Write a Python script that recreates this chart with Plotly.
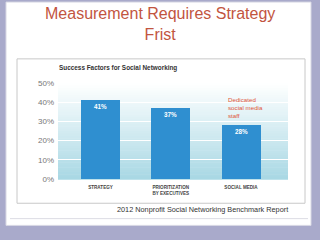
import plotly.graph_objects as go

categories = ["STRATEGY", "PRIORITIZATION<br>BY EXECUTIVES", "SOCIAL MEDIA"]
values = [41, 37, 28]
value_labels = ["<b>41%</b>", "<b>37%</b>", "<b>28%</b>"]
y_ticks = [0, 10, 20, 30, 40, 50]
y_tick_labels = ["0%", "10%", "20%", "30%", "40%", "50%"]

W, H = 320, 240
def px(x): return x / W
def py(y): return 1 - y / H

# plot area in pixels
X0, X1 = 58, 288
Y0, Y1 = 82, 182

fig = go.Figure()
fig.add_trace(go.Bar(
    x=categories, y=values, text=value_labels,
    textposition="inside", insidetextanchor="end",
    textfont=dict(family="Arial", size=6.3, color="white"),
    marker=dict(color="#2f8fd0", line=dict(width=0)),
    width=0.555, cliponaxis=False,
))

shapes = []
shapes.append(dict(type="rect", xref="paper", yref="paper",
                   x0=px(6), x1=px(311), y0=py(230), y1=py(-2),
                   fillcolor="white", line=dict(color="#d8d8e4", width=1), layer="below"))
shapes.append(dict(type="rect", xref="paper", yref="paper",
                   x0=px(17), x1=px(305), y0=py(207), y1=py(57),
                   fillcolor="white", line=dict(color="#c8c8c8", width=1), layer="below"))
shapes.append(dict(type="line", xref="paper", yref="paper",
                   x0=px(10), x1=px(308), y0=py(223), y1=py(223),
                   line=dict(color="#dcdce4", width=1), layer="below"))
N = 40
top = (255, 255, 255)
bot = (168, 216, 228)
for i in range(N):
    t = (i + 0.5) / N
    c = tuple(int(round(top[k] + (bot[k] - top[k]) * t)) for k in range(3))
    ya = Y0 + (Y1 - Y0) * i / N
    yb = Y0 + (Y1 - Y0) * (i + 1) / N + 0.5
    shapes.append(dict(type="rect", xref="paper", yref="paper",
                       x0=px(X0), x1=px(X1), y0=py(yb), y1=py(ya),
                       fillcolor="rgb(%d,%d,%d)" % c, line=dict(width=0), layer="below"))

annotations = [
    dict(text="Measurement Requires Strategy<br>Frist", xref="paper", yref="paper",
         x=px(160), y=py(21), showarrow=False,
         font=dict(family="Arial", size=16, color="#c2553f"), xanchor="center", yanchor="middle"),
    dict(text="<b>Success Factors for Social Networking</b>", xref="paper", yref="paper",
         x=px(57), y=py(67), showarrow=False, xanchor="left", yanchor="middle",
         font=dict(family="Arial", size=6.4, color="#333333")),
    dict(text="Dedicated<br>social media<br>staff", xref="paper", yref="paper",
         x=px(226), y=py(108), showarrow=False, xanchor="left", yanchor="middle", align="left",
         font=dict(family="Arial", size=6.2, color="#e0553a")),
    dict(text="2012 Nonprofit Social Networking Benchmark Report", xref="paper", yref="paper",
         x=px(202), y=py(214), showarrow=False, xanchor="center", yanchor="middle",
         font=dict(family="Arial", size=7.3, color="#333333")),
]

fig.update_layout(
    width=W, height=H, margin=dict(l=0, r=0, t=0, b=0),
    paper_bgcolor="#a9aacb", plot_bgcolor="rgba(0,0,0,0)",
    showlegend=False, shapes=shapes, annotations=annotations,
    xaxis=dict(domain=[px(X0), px(X1)], range=[-0.605, 2.669], showgrid=False,
               showline=False, zeroline=False, ticks="", ticklabelstandoff=4,
               tickfont=dict(family="Arial", size=4.6, color="#444444", weight="bold"),
               fixedrange=True),
    yaxis=dict(domain=[py(Y1), py(Y0)], range=[0, 50], tickvals=y_ticks, ticktext=y_tick_labels,
               showgrid=True, gridcolor="white", gridwidth=1, zeroline=False, showline=False,
               ticks="", ticklen=0, ticklabelstandoff=3,
               tickfont=dict(family="Arial", size=8, color="#777777"),
               fixedrange=True),
    bargap=0,
)

fig.write_html("out.html")
